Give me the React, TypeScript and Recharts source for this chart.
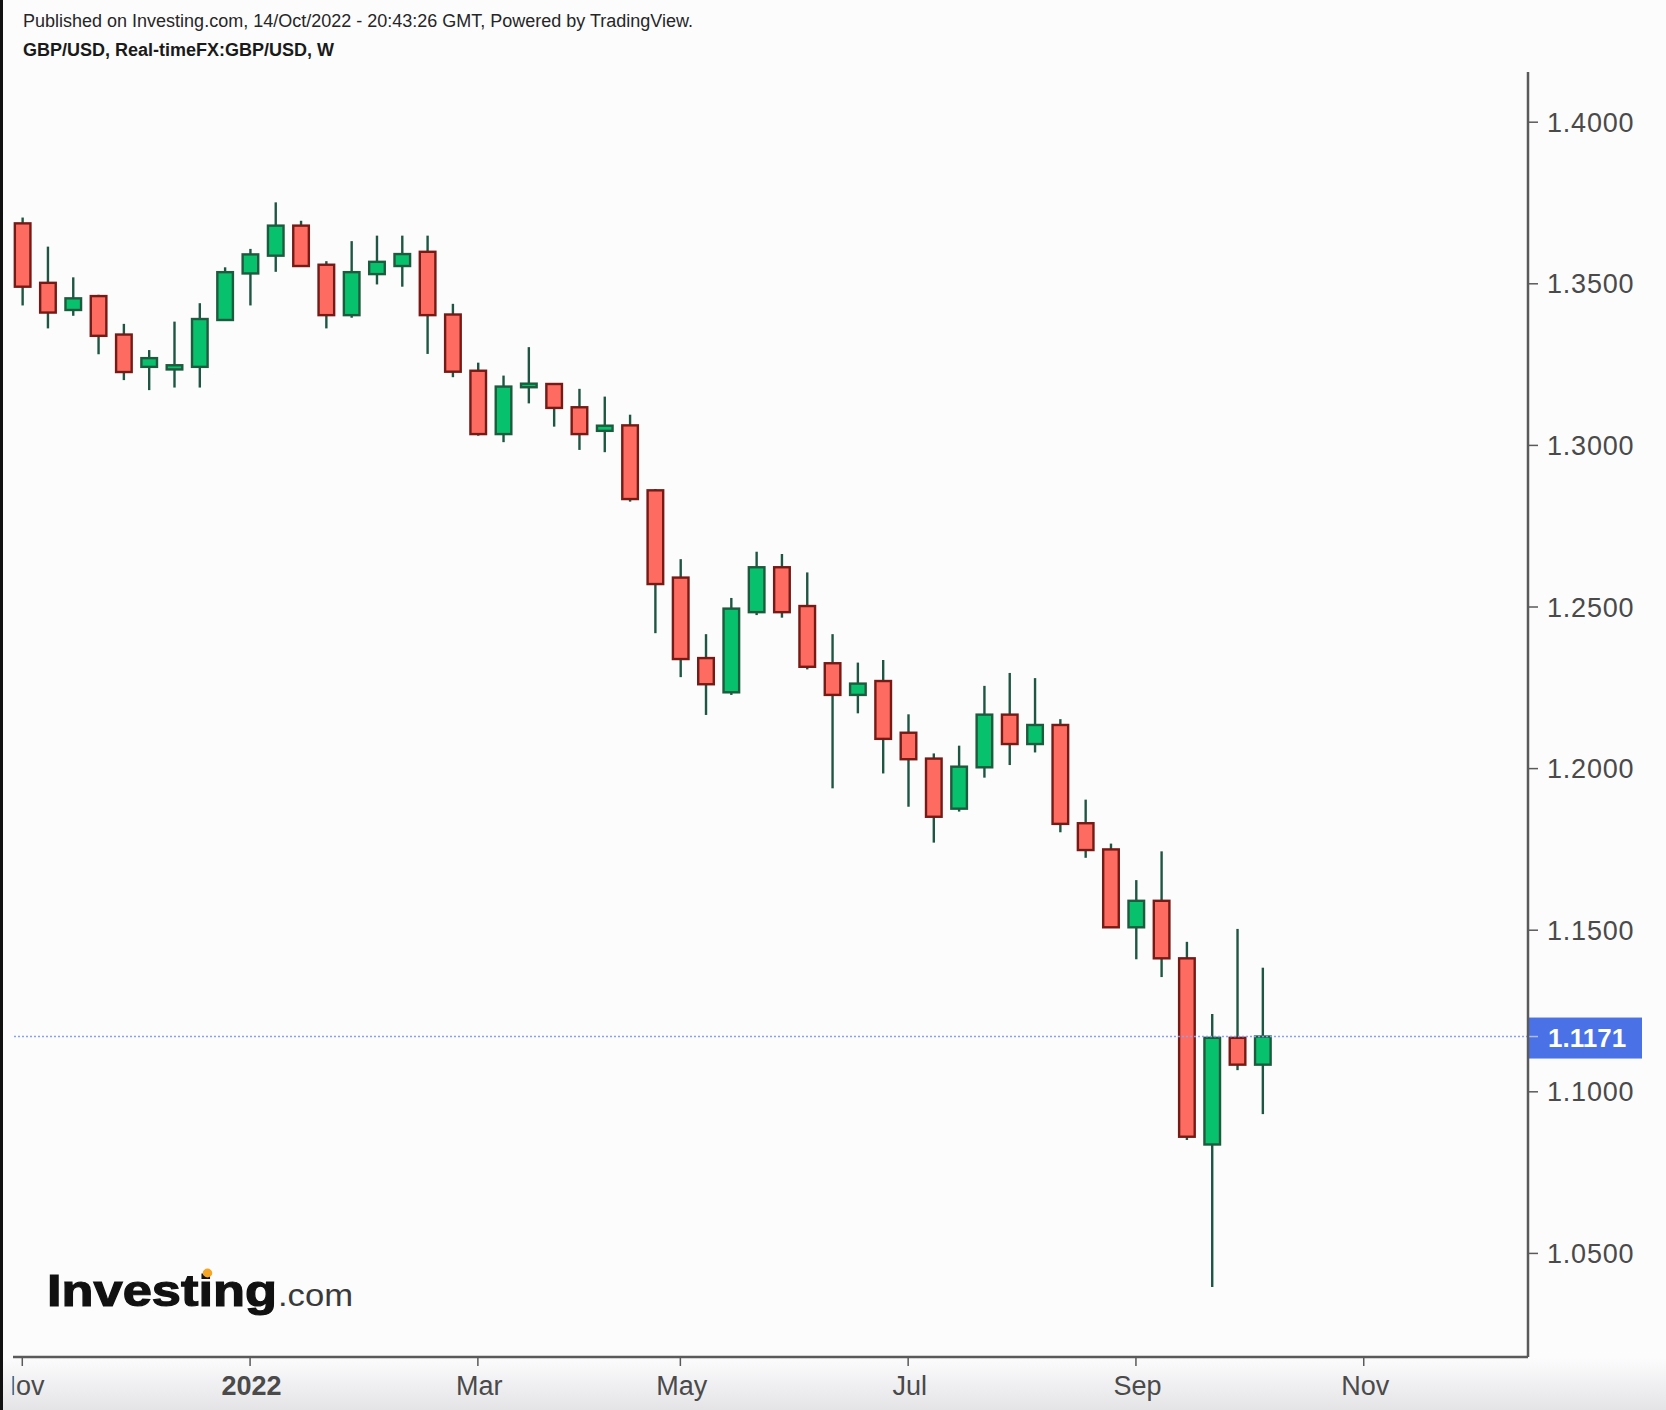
import React from 'react';
import { ComposedChart, Bar, XAxis, YAxis, ReferenceLine } from 'recharts';

// weekly GBP/USD candles, Nov 2021 - Oct 2022
const WEEKS = [
  '2021-11-01', '2021-11-08', '2021-11-15', '2021-11-22', '2021-11-29',
  '2021-12-06', '2021-12-13', '2021-12-20', '2021-12-27', '2022-01-03',
  '2022-01-10', '2022-01-17', '2022-01-24', '2022-01-31', '2022-02-07',
  '2022-02-14', '2022-02-21', '2022-02-28', '2022-03-07', '2022-03-14',
  '2022-03-21', '2022-03-28', '2022-04-04', '2022-04-11', '2022-04-18',
  '2022-04-25', '2022-05-02', '2022-05-09', '2022-05-16', '2022-05-23',
  '2022-05-30', '2022-06-06', '2022-06-13', '2022-06-20', '2022-06-27',
  '2022-07-04', '2022-07-11', '2022-07-18', '2022-07-25', '2022-08-01',
  '2022-08-08', '2022-08-15', '2022-08-22', '2022-08-29', '2022-09-05',
  '2022-09-12', '2022-09-19', '2022-09-26', '2022-10-03', '2022-10-10',
];

const OPEN = [
  1.3687, 1.3503, 1.3419, 1.3462, 1.3343, 1.3243, 1.3235, 1.3243, 1.3388, 1.3532,
  1.3587, 1.3680, 1.3559, 1.3403, 1.3530, 1.3555, 1.3599, 1.3405, 1.3231, 1.3035,
  1.3180, 1.3190, 1.3118, 1.3045, 1.3062, 1.2861, 1.2591, 1.2342, 1.2236, 1.2484,
  1.2623, 1.2503, 1.2326, 1.2228, 1.2271, 1.2111, 1.2031, 1.1876, 1.2004, 1.2167,
  1.2076, 1.2135, 1.1831, 1.1750, 1.1509, 1.1591, 1.1413, 1.0837, 1.1167, 1.1084,
];
const HIGH = [
  1.3705, 1.3615, 1.3520, 1.3466, 1.3376, 1.3295, 1.3383, 1.3440, 1.3551, 1.3608,
  1.3752, 1.3695, 1.3570, 1.3632, 1.3649, 1.3649, 1.3649, 1.3438, 1.3256, 1.3216,
  1.3304, 1.3193, 1.3175, 1.3151, 1.3095, 1.2865, 1.2648, 1.2416, 1.2528, 1.2671,
  1.2664, 1.2607, 1.2416, 1.2328, 1.2336, 1.2168, 1.2047, 1.2071, 1.2256, 1.2296,
  1.2280, 1.2153, 1.1904, 1.1768, 1.1655, 1.1744, 1.1464, 1.1241, 1.1504, 1.1384,
];
const LOW = [
  1.3433, 1.3362, 1.3401, 1.3282, 1.3202, 1.3171, 1.3179, 1.3179, 1.3385, 1.3433,
  1.3537, 1.3553, 1.3362, 1.3395, 1.3498, 1.3491, 1.3283, 1.3211, 1.3030, 1.3010,
  1.3130, 1.3058, 1.2986, 1.2979, 1.2826, 1.2419, 1.2283, 1.2166, 1.2228, 1.2475,
  1.2467, 1.2307, 1.1939, 1.2171, 1.1985, 1.1882, 1.1771, 1.1867, 1.1972, 1.2011,
  1.2050, 1.1803, 1.1724, 1.1507, 1.1410, 1.1355, 1.0851, 1.0396, 1.1067, 1.0931,
];
const CLOSE = [
  1.3491, 1.3411, 1.3455, 1.3339, 1.3227, 1.3270, 1.3248, 1.3391, 1.3536, 1.3591,
  1.3680, 1.3555, 1.3403, 1.3536, 1.3568, 1.3592, 1.3403, 1.3228, 1.3035, 1.3182,
  1.3191, 1.3116, 1.3035, 1.3061, 1.2834, 1.2571, 1.2339, 1.2261, 1.2495, 1.2623,
  1.2484, 1.2315, 1.2228, 1.2263, 1.2092, 1.2029, 1.1851, 1.2006, 1.2167, 1.2076,
  1.2135, 1.1829, 1.1748, 1.1509, 1.1591, 1.1413, 1.0861, 1.1167, 1.1084, 1.1171,
];

const LAST_PRICE = 1.1171;
const PRICE_TICKS = [1.05, 1.1, 1.15, 1.2, 1.25, 1.3, 1.35, 1.4];
const TIME_TICKS = [0, 9, 18, 26, 35, 44, 53]; // week index
const TIME_LABELS = ['Nov', '2022', 'Mar', 'May', 'Jul', 'Sep', 'Nov'];

const UP_FILL = '#08c16d';
const UP_STROKE = '#1e5b3e';
const DOWN_FILL = '#fe6b61';
const DOWN_STROKE = '#751a15';
const WICK = '#1f5643';
const AXIS = '#5a5a5a';
const FONT = '"Liberation Sans", Arial, Helvetica, sans-serif';

const data = WEEKS.map((week, i) => ({
  i,
  week,
  open: OPEN[i],
  high: HIGH[i],
  low: LOW[i],
  close: CLOSE[i],
}));

// draws a candle inside the low..high bar the library positions for us
const Candle = (props: any) => {
  const { x, y, width, height, payload } = props;
  if (x == null || y == null) return null;
  const top = Math.min(y, y + height);
  const h = Math.abs(height);
  const { open, close, high, low } = payload;
  const yOf = (p: number) => top + ((high - p) / (high - low)) * h;
  const cx = x + width / 2;
  const up = close >= open;
  let bTop = yOf(Math.max(open, close));
  let bBot = yOf(Math.min(open, close));
  if (bBot - bTop < 3) {
    const m = (bTop + bBot) / 2;
    bTop = m - 1.5;
    bBot = m + 1.5;
  }
  return (
    <g>
      <line x1={cx} x2={cx} y1={top} y2={top + h} stroke={WICK} strokeWidth={2.4} />
      <rect
        x={cx - 7.8}
        y={bTop}
        width={15.6}
        height={bBot - bTop}
        fill={up ? UP_FILL : DOWN_FILL}
        stroke={up ? UP_STROKE : DOWN_STROKE}
        strokeWidth={2.4}
      />
    </g>
  );
};

const XTick = (props: any) => {
  const { x, y, payload } = props;
  const idx = TIME_TICKS.indexOf(payload.value);
  const label = TIME_LABELS[idx] ?? '';
  const first = idx === 0;
  return (
    <g>
      {first && (
        <defs>
          <clipPath id="firstLabelClip">
            <rect x={12.5} y={1300} width={200} height={110} />
          </clipPath>
        </defs>
      )}
      <text
        x={first ? x - 1.8 : x + 1.5}
        y={y + 27}
        textAnchor="middle"
        fontFamily={FONT}
        fontSize={27}
        fontWeight={label === '2022' ? 'bold' : 'normal'}
        fill="#4a4a4a"
        clipPath={first ? 'url(#firstLabelClip)' : undefined}
      >
        {label}
      </text>
    </g>
  );
};

const YTick = (props: any) => {
  const { x, y, payload } = props;
  return (
    <text
      x={x}
      y={y + 9.5}
      fontFamily={FONT}
      fontSize={27}
      letterSpacing={0.8}
      fill="#4a4a4a"
    >
      {payload.value.toFixed(4)}
    </text>
  );
};

const PriceTag = (props: any) => {
  const { viewBox } = props;
  if (!viewBox) return null;
  const x = viewBox.x + viewBox.width;
  const y = viewBox.y;
  return (
    <g>
      <rect x={x + 1} y={y - 19} width={113} height={41} fill="#4a72e6" />
      <line x1={x + 1} x2={x + 10} y1={y} y2={y} stroke="#a9bbf3" strokeWidth={1.5} />
      <text x={x + 20} y={y + 10.5} fontFamily={FONT} fontSize={26} fontWeight="bold" fill="#ffffff">
        {LAST_PRICE.toFixed(4)}
      </text>
    </g>
  );
};

export default function App() {
  return (
    <div
      style={{
        position: 'absolute',
        left: 0,
        top: 0,
        width: 1666,
        height: 1410,
        overflow: 'hidden',
        background: '#fcfcfd',
        fontFamily: FONT,
      }}
    >
      <div
        style={{
          position: 'absolute',
          left: 0,
          top: 1358,
          width: 1666,
          height: 52,
          background: 'linear-gradient(#fcfcfd, #e4e4e7)',
        }}
      />
      <div style={{ position: 'absolute', left: 0, top: 0 }}>
        <ComposedChart
          width={1666}
          height={1410}
          data={data}
          margin={{ top: 72, right: 0, bottom: 0, left: 13 }}
        >
          <XAxis
            dataKey="i"
            type="number"
            domain={[-0.367, 59.49]}
            allowDataOverflow
            ticks={TIME_TICKS}
            interval={0}
            height={53}
            axisLine={{ stroke: AXIS, strokeWidth: 2.5 }}
            tickLine={{ stroke: AXIS, strokeWidth: 1.5 }}
            tickSize={9}
            tickMargin={2}
            tick={<XTick />}
          />
          <YAxis
            orientation="right"
            type="number"
            domain={[1.01795, 1.41553]}
            allowDataOverflow
            ticks={PRICE_TICKS}
            interval={0}
            width={138}
            axisLine={{ stroke: AXIS, strokeWidth: 2.5 }}
            tickLine={{ stroke: AXIS, strokeWidth: 1.5 }}
            tickSize={10}
            tickMargin={9}
            tick={<YTick />}
          />
          <ReferenceLine
            y={LAST_PRICE}
            stroke="#8aa2ee"
            strokeWidth={1.5}
            strokeDasharray="2 2"
            label={<PriceTag />}
          />
          <Bar
            dataKey={(d: any) => [d.low, d.high]}
            barSize={18}
            shape={(p: any) => <Candle {...p} />}
            isAnimationActive={false}
          />
        </ComposedChart>
      </div>
      <svg
        width={1666}
        height={1410}
        style={{ position: 'absolute', left: 0, top: 0, pointerEvents: 'none' }}
      >
        <text x={23} y={26.5} fontFamily={FONT} fontSize={18} fill="#262626">
          Published on Investing.com, 14/Oct/2022 - 20:43:26 GMT, Powered by TradingView.
        </text>
        <text x={23} y={55.5} fontFamily={FONT} fontSize={18} fontWeight="bold" fill="#1a1a1a">
          GBP/USD, Real-timeFX:GBP/USD, W
        </text>
        <text
          x={47}
          y={1306}
          fontFamily={FONT}
          fontSize={45}
          fontWeight={900}
          fill="#111111"
          stroke="#111111"
          strokeWidth={1.2}
          textLength={230}
          lengthAdjust="spacingAndGlyphs"
        >
          Investing
        </text>
        <ellipse cx={207.5} cy={1273} rx={4.8} ry={4.4} fill="#f5a524" />
        <text
          x={278}
          y={1306}
          fontFamily={FONT}
          fontSize={32}
          fill="#3a3a3a"
          textLength={75}
          lengthAdjust="spacingAndGlyphs"
        >
          .com
        </text>
      </svg>
      <div style={{ position: 'absolute', left: 0, top: 0, width: 3, height: 1410, background: '#111' }} />
    </div>
  );
}
